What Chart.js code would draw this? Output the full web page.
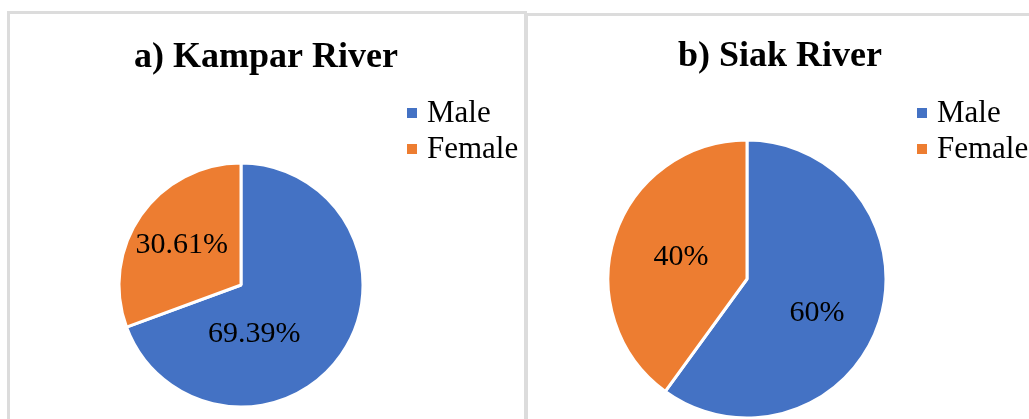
<!DOCTYPE html>
<html>
<head>
<meta charset="utf-8">
<script src="https://cdn.jsdelivr.net/npm/chart.js@4/dist/chart.umd.min.js"></script>
<style>
  html, body { margin: 0; padding: 0; background: #fff; }
  body { width: 1029px; height: 419px; position: relative; overflow: hidden; }
  .panel { position: absolute; border: 3px solid #dcdcdc; background: #fff; box-sizing: border-box; }
  #panelA { left: 7px; top: 11px; width: 520px; height: 500px; }
  #panelB { left: 525px; top: 13px; width: 600px; height: 500px; }
  canvas { position: absolute; left: 0; top: 0; }
</style>
</head>
<body>
<div class="panel" id="panelA"></div>
<div class="panel" id="panelB"></div>
<canvas id="chartA" width="1029" height="419"></canvas>
<canvas id="chartB" width="1029" height="419"></canvas>
<script>
// Sex ratio of sampled fish in two rivers (percent)
const categories = ['Male', 'Female'];
const kamparValues = [69.39, 30.61];
const siakValues = [60, 40];
const chartTitles = ['a) Kampar River', 'b) Siak River'];
const sliceColors = ['#4472C4', '#ED7D31'];

const SERIF = '"Liberation Serif", "Times New Roman", serif';

// Draws the panel title, a square-marker legend and the percentage labels
const panelDecor = {
  id: 'panelDecor',
  afterDatasetsDraw(chart, args, o) {
    const ctx = chart.ctx;
    ctx.save();
    // title
    ctx.fillStyle = '#000';
    ctx.font = 'bold ' + o.titleSize + 'px ' + SERIF;
    ctx.textAlign = 'center';
    ctx.textBaseline = 'alphabetic';
    ctx.fillText(o.title, o.titleX, o.titleY);

    // legend
    ctx.font = o.legendSize + 'px ' + SERIF;
    ctx.textAlign = 'left';
    const labels = chart.data.labels;
    const colors = chart.data.datasets[0].backgroundColor;
    labels.forEach((lab, i) => {
      const base = o.legendY + i * o.legendGap;
      ctx.fillStyle = colors[i];
      ctx.fillRect(o.legendX, base - 14, 10, 10);
      ctx.fillStyle = '#000';
      ctx.fillText(lab, o.legendX + 20, base);
    });

    // slice labels
    const meta = chart.getDatasetMeta(0);
    const values = chart.data.datasets[0].data;
    ctx.font = o.labelSize + 'px ' + SERIF;
    ctx.textAlign = 'center';
    ctx.textBaseline = 'middle';
    ctx.fillStyle = '#000';
    meta.data.forEach((arc, i) => {
      const p = arc.getProps(['x', 'y', 'startAngle', 'endAngle', 'outerRadius'], true);
      const a = (p.startAngle + p.endAngle) / 2 + o.labelShift[i] * Math.PI / 180;
      const r = p.outerRadius * o.labelFrac[i];
      ctx.fillText(values[i] + '%', p.x + Math.cos(a) * r, p.y + Math.sin(a) * r);
    });
    ctx.restore();
  }
};

function makePie(id, values, radius, padding, decor) {
  return new Chart(document.getElementById(id), {
    type: 'pie',
    data: {
      labels: categories,
      datasets: [{
        data: values,
        backgroundColor: sliceColors,
        borderColor: '#ffffff',
        borderWidth: 3,
        radius: radius,
        clip: false
      }]
    },
    options: {
      responsive: false,
      animation: false,
      devicePixelRatio: 1,
      events: [],
      radius: radius,
      layout: { padding: padding },
      plugins: {
        legend: { display: false },
        title: { display: false },
        tooltip: { enabled: false },
        panelDecor: decor
      }
    },
    plugins: [panelDecor]
  });
}

makePie('chartA', kamparValues, 122,
  { left: 111, top: 155, right: 658, bottom: 4 },
  {
    title: chartTitles[0], titleX: 266, titleY: 67, titleSize: 36,
    legendX: 407, legendY: 122, legendGap: 36, legendSize: 31,
    labelSize: 30, labelFrac: [0.415, 0.585], labelShift: [40, -1]
  });

makePie('chartB', siakValues, 139,
  { left: 607, top: 139, right: 142, bottom: 0 },
  {
    title: chartTitles[1], titleX: 780, titleY: 66, titleSize: 36,
    legendX: 917, legendY: 122, legendGap: 36, legendSize: 31,
    labelSize: 30, labelFrac: [0.56, 0.5], labelShift: [8, 0]
  });
</script>
</body>
</html>
